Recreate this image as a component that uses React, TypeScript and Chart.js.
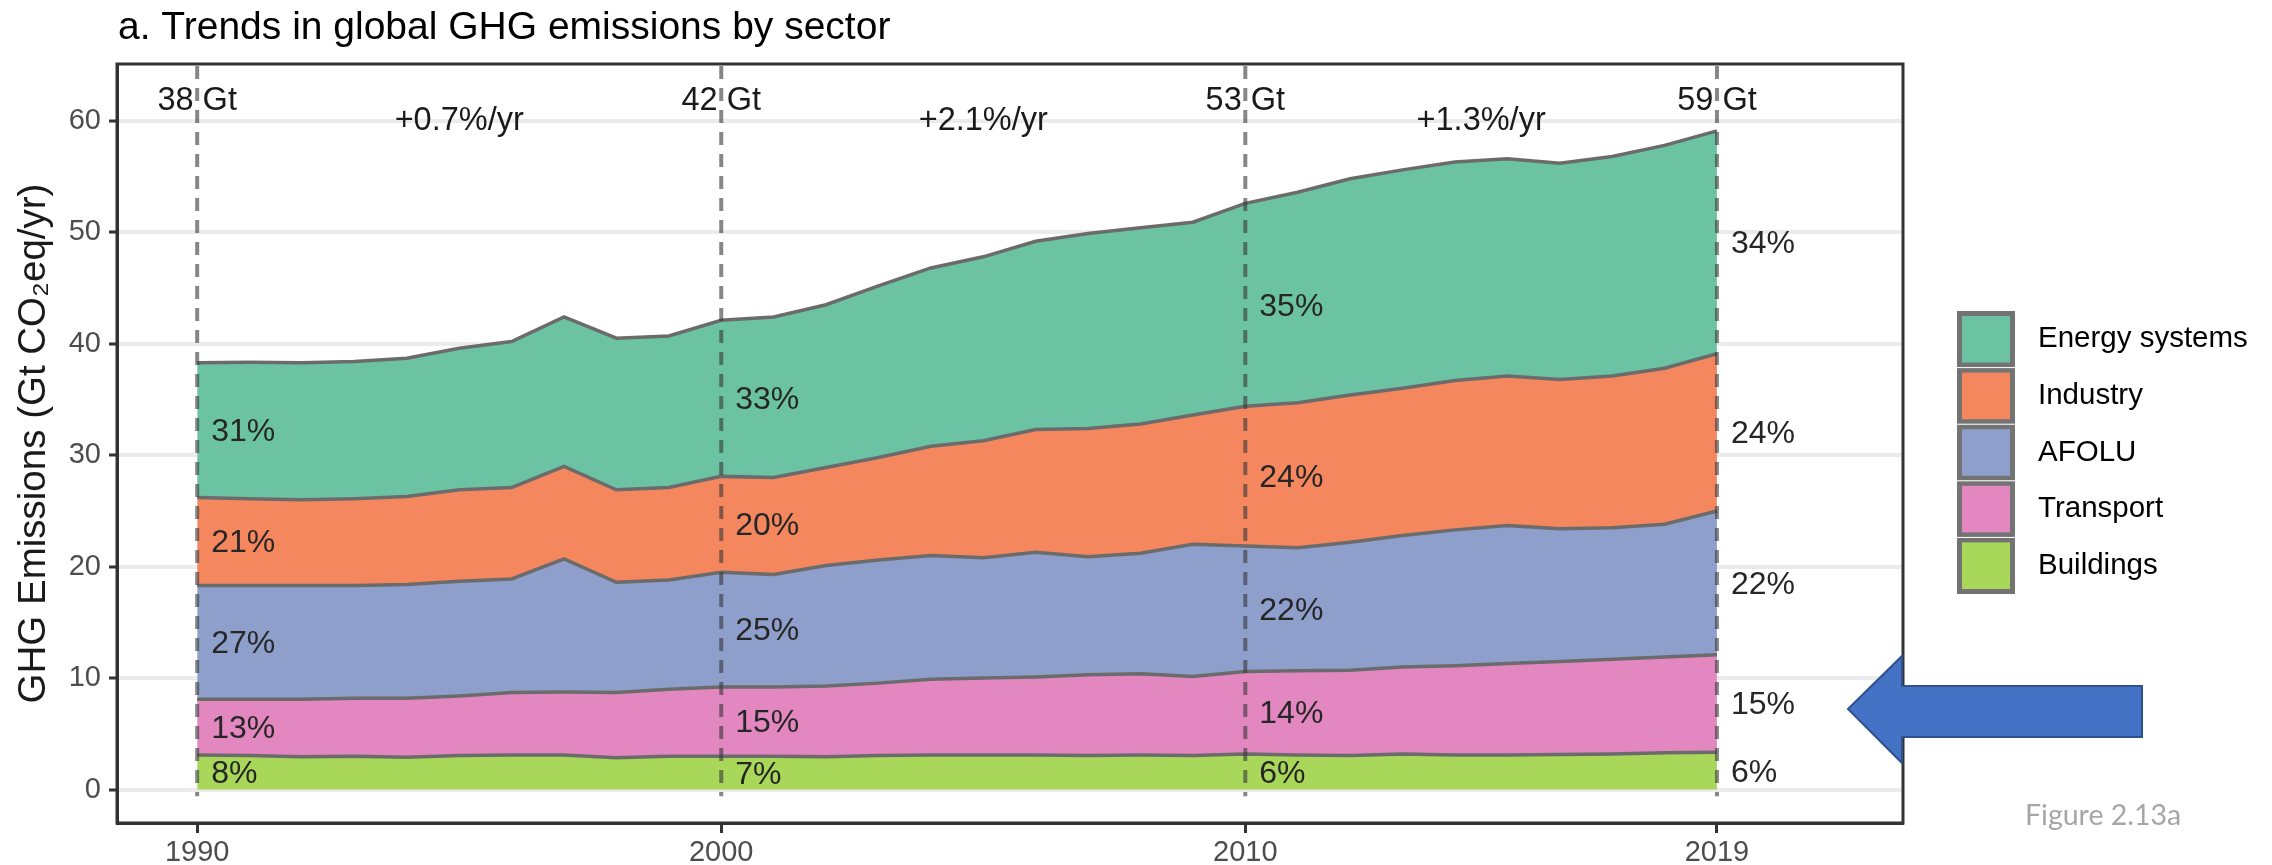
import React, { useEffect, useRef } from 'react';
import { Chart, registerables } from 'chart.js';

Chart.register(...registerables);

// ---------- data (Gt CO2eq/yr) ----------
const years = [
  1990, 1991, 1992, 1993, 1994, 1995, 1996, 1997, 1998, 1999,
  2000, 2001, 2002, 2003, 2004, 2005, 2006, 2007, 2008, 2009,
  2010, 2011, 2012, 2013, 2014, 2015, 2016, 2017, 2018, 2019,
];
const buildings = [3.1, 3.05, 2.95, 3.0, 2.9, 3.05, 3.1, 3.1, 2.85, 3.0, 3.0, 3.0, 2.95, 3.05, 3.1, 3.1, 3.1, 3.05, 3.1, 3.05, 3.2, 3.1, 3.05, 3.2, 3.1, 3.1, 3.15, 3.2, 3.3, 3.35];
const transport = [5.0, 5.05, 5.15, 5.2, 5.3, 5.35, 5.6, 5.65, 5.85, 6.0, 6.2, 6.2, 6.35, 6.5, 6.8, 6.9, 7.0, 7.25, 7.3, 7.1, 7.4, 7.55, 7.65, 7.8, 8.0, 8.2, 8.35, 8.5, 8.6, 8.75];
const afolu = [10.2, 10.2, 10.2, 10.1, 10.2, 10.3, 10.2, 11.95, 9.9, 9.8, 10.3, 10.1, 10.8, 11.05, 11.1, 10.8, 11.2, 10.6, 10.8, 11.85, 11.25, 11.05, 11.5, 11.8, 12.2, 12.4, 11.9, 11.8, 11.9, 12.9];
const industry = [7.9, 7.8, 7.7, 7.8, 7.9, 8.2, 8.2, 8.3, 8.3, 8.3, 8.6, 8.7, 8.8, 9.2, 9.8, 10.5, 11.0, 11.5, 11.6, 11.6, 12.55, 13.0, 13.2, 13.2, 13.4, 13.4, 13.4, 13.6, 14.0, 14.1];
const energy = [12.1, 12.25, 12.3, 12.3, 12.4, 12.7, 13.1, 13.4, 13.6, 13.6, 14.0, 14.4, 14.6, 15.4, 16.0, 16.5, 16.9, 17.5, 17.6, 17.3, 18.2, 18.9, 19.4, 19.6, 19.6, 19.5, 19.4, 19.7, 20.0, 20.0];

const sectorNames = ['Buildings', 'Transport', 'AFOLU', 'Industry', 'Energy systems'];
const sectorColors = ['#a9d75a', '#e287bf', '#8d9fca', '#f5875f', '#6cc3a4'];

const markYears = [1990, 2000, 2010, 2019];
const totalLabels = ['38 Gt', '42 Gt', '53 Gt', '59 Gt'];
const rateYears = [1995, 2005, 2014.5];
const rateLabels = ['+0.7%/yr', '+2.1%/yr', '+1.3%/yr'];
// shares, bottom (Buildings) to top (Energy systems)
const shares1990 = ['8%', '13%', '27%', '21%', '31%'];
const shares2000 = ['7%', '15%', '25%', '20%', '33%'];
const shares2010 = ['6%', '14%', '22%', '24%', '35%'];
const shares2019 = ['6%', '15%', '22%', '24%', '34%'];

const xTicks = [1990, 2000, 2010, 2019];
const yTicks = [0, 10, 20, 30, 40, 50, 60];

const titleText = 'a. Trends in global GHG emissions by sector';
const yTitle = 'GHG Emissions (Gt CO\u2082eq/yr)';
const figureLabel = 'Figure 2.13a';

const FONT = "'Liberation Sans', Arial, Helvetica, sans-serif";

export default function App() {
  const ref = useRef<HTMLCanvasElement | null>(null);

  useEffect(() => {
    const canvas = ref.current;
    if (!canvas) return;
    const series = [buildings, transport, afolu, industry, energy];
    const allShares = [shares1990, shares2000, shares2010, shares2019];

    const overlay = {
      id: 'overlay',
      afterDatasetsDraw(chart: any) {
        const { ctx, chartArea: ca, scales } = chart;
        const xs = scales.x;
        const ys = scales.y;
        ctx.save();

        // dashed reference lines
        ctx.setLineDash([13, 9]);
        ctx.strokeStyle = 'rgba(55,55,55,0.6)';
        ctx.lineWidth = 4;
        markYears.forEach((yr) => {
          const px = xs.getPixelForValue(yr);
          ctx.beginPath();
          ctx.moveTo(px, ca.top + 2);
          ctx.lineTo(px, ys.getPixelForValue(-0.6));
          ctx.stroke();
        });
        ctx.setLineDash([]);

        // panel border
        ctx.strokeStyle = '#333333';
        ctx.lineWidth = 3;
        ctx.strokeRect(ca.left, ca.top, ca.right - ca.left, ca.bottom - ca.top);

        // totals and growth rates
        ctx.fillStyle = '#1a1a1a';
        ctx.font = `32.5px ${FONT}`;
        ctx.textAlign = 'center';
        ctx.textBaseline = 'middle';
        markYears.forEach((yr, i) => {
          ctx.fillText(totalLabels[i], xs.getPixelForValue(yr), ys.getPixelForValue(61.8));
        });
        rateYears.forEach((yr, i) => {
          ctx.fillText(rateLabels[i], xs.getPixelForValue(yr), ys.getPixelForValue(60));
        });

        // shares at band mid-points
        ctx.font = `32px ${FONT}`;
        ctx.textAlign = 'left';
        ctx.fillStyle = '#262626';
        markYears.forEach((yr, k) => {
          const idx = years.indexOf(yr);
          let base = 0;
          for (let s = 0; s < series.length; s++) {
            const v = series[s][idx];
            const mid = base + v / 2;
            base += v;
            ctx.fillText(allShares[k][s], xs.getPixelForValue(yr) + 14, ys.getPixelForValue(mid) + 2);
          }
        });

        // title
        ctx.fillStyle = '#000000';
        ctx.font = `39px ${FONT}`;
        ctx.textBaseline = 'alphabetic';
        ctx.textAlign = 'left';
        ctx.fillText(titleText, ca.left + 1, 39);

        // legend
        const lx = 1957, ly = 311, lw = 58, lh = 56.6;
        for (let k = 0; k < 5; k++) {
          const s = 4 - k;
          const top = ly + k * lh;
          ctx.fillStyle = '#737373';
          ctx.fillRect(lx, top, lw, lh);
          ctx.fillStyle = sectorColors[s];
          ctx.fillRect(lx + 5, top + 5, lw - 10, lh - 10);
          if (k > 0) {
            ctx.fillStyle = '#ffffff';
            ctx.fillRect(lx, top - 0.5, lw, 1);
          }
          ctx.fillStyle = '#000000';
          ctx.font = `29.5px ${FONT}`;
          ctx.textBaseline = 'middle';
          ctx.fillText(sectorNames[s], 2038, top + lh / 2);
        }

        // blue arrow
        ctx.beginPath();
        ctx.moveTo(1848, 709);
        ctx.lineTo(1902, 656);
        ctx.lineTo(1902, 686);
        ctx.lineTo(2142, 686);
        ctx.lineTo(2142, 737);
        ctx.lineTo(1902, 737);
        ctx.lineTo(1902, 763);
        ctx.closePath();
        ctx.fillStyle = '#4472c4';
        ctx.fill();
        ctx.strokeStyle = '#2f528f';
        ctx.lineWidth = 2;
        ctx.stroke();

        // figure label
        ctx.fillStyle = '#a6a6a6';
        ctx.font = `28.5px Lato, 'Open Sans', sans-serif`;
        ctx.textBaseline = 'middle';
        ctx.textAlign = 'left';
        ctx.fillText(figureLabel, 2025, 816);

        ctx.restore();
      },
    };

    const datasets = series.map((vals, s) => ({
      label: sectorNames[s],
      data: years.map((yr, i) => ({ x: yr, y: vals[i] })),
      backgroundColor: sectorColors[s],
      borderColor: '#6b6b6b',
      borderWidth: 3.5,
      pointRadius: 0,
      tension: 0,
      fill: s === 0 ? 'origin' : '-1',
    }));

    const chart = new Chart(canvas, {
      type: 'line',
      data: { datasets },
      options: {
        responsive: false,
        devicePixelRatio: 1,
        animation: false,
        layout: { padding: { left: 0, top: 64, right: 369, bottom: 0 } },
        plugins: {
          legend: { display: false },
          tooltip: { enabled: false },
          title: { display: false },
        },
        scales: {
          x: {
            type: 'linear',
            min: 1988.47,
            max: 2022.55,
            afterBuildTicks: (scale: any) => {
              scale.ticks = xTicks.map((v) => ({ value: v }));
            },
            afterFit: (scale: any) => {
              scale.height = 42;
            },
            ticks: {
              color: '#4d4d4d',
              font: { family: FONT, size: 29 },
              padding: 3,
              maxRotation: 0,
              callback: (v: any) => String(v),
            },
            grid: {
              drawOnChartArea: false,
              tickLength: 10,
              tickWidth: 3,
              tickColor: '#333333',
              color: '#333333',
            },
            border: { display: true, color: '#333333', width: 3 },
          },
          y: {
            type: 'linear',
            stacked: true,
            min: -3.0,
            max: 65.1,
            afterBuildTicks: (scale: any) => {
              scale.ticks = yTicks.map((v) => ({ value: v }));
            },
            afterFit: (scale: any) => {
              scale.width = 117;
            },
            ticks: {
              color: '#4d4d4d',
              font: { family: FONT, size: 29 },
              padding: 8,
              callback: (v: any) => String(v),
            },
            grid: {
              color: '#ebebeb',
              lineWidth: 4,
              tickLength: 8,
              tickWidth: 3,
              tickColor: '#333333',
            },
            border: { display: true, color: '#333333', width: 3 },
            title: {
              display: true,
              text: yTitle,
              color: '#1a1a1a',
              font: { family: FONT, size: 38.5 },
              padding: { top: 11, bottom: 0 },
            },
          },
        },
      },
      plugins: [overlay],
    });

    return () => chart.destroy();
  }, []);

  return (
    <div style={{ position: 'fixed', left: 0, top: 0, width: 2272, height: 865, background: '#ffffff' }}>
      <canvas ref={ref} width={2272} height={865} style={{ display: 'block', width: 2272, height: 865 }} />
    </div>
  );
}
